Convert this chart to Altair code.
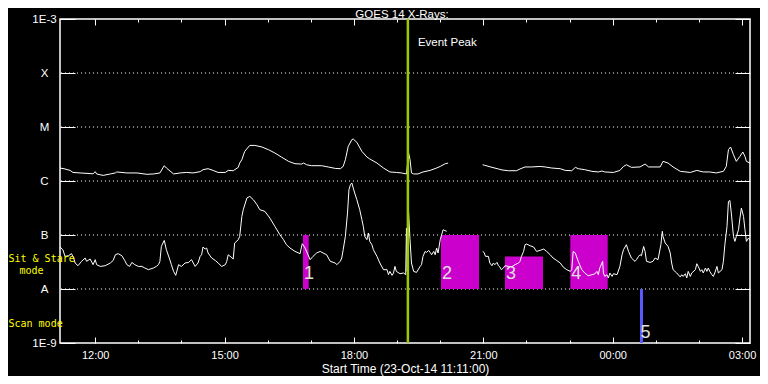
import altair as alt
import pandas as pd

# ---------------- data ----------------
START = "2014-10-23 11:11:00"
TITLE = "GOES 14 X-Rays:"

# long channel (1-8 A), minutes after start; None marks a data gap
LONG_T = [0, 7, 14, 18, 28, 46, 49, 51, 60, 70, 77, 79, 93, 107, 121, 130, 139, 145, 148, 158,
          167, 176, 185, 195, 199, 206, 213, 220, 230, 234, 241, 248, 250, 253, 257, 264, 271, 281, 290, 299,
          308, 318, 327, 336, 339, 343, 350, 364, 373, 383, 390, 394, 397, 401, 406, 408, 413, 420, 427, 431,
          441, 450, 459, 468, 475, 482, 485, 487, 489, 492, 498, 505, 515, 524, 529, 536, 540, None,
          588, 591, 601, 610, 615, 624, 635, 640, 647, 656, 668, 675, 684, 696, 703, 712, 717, 721, 730, 740,
          749, 754, 758, 770, 779, 784, 788, 795, 807, 814, 819, 835, 839, 846, 853, 863, 877, 886, 895, 904,
          913, 923, 927, 930, 933, 937, 941, 946, 950, 953, 955, 960]
# flux in units of 1e-6 W/m^2
LONG_F = [1.74, 1.67, 1.57, 1.44, 1.41, 1.36, 1.49, 1.35, 1.27, 1.35, 1.41, 1.47, 1.41, 1.41, 1.33, 1.35, 1.41, 1.92, 1.74, 1.35,
          1.41, 1.44, 1.41, 1.49, 1.62, 1.69, 1.57, 1.44, 1.44, 1.57, 1.55, 1.79, 2.15, 2.48, 3.54, 4.56, 4.56, 4.26, 3.80, 3.30,
          2.78, 2.31, 2.09, 2.06, 2.15, 2.00, 1.92, 1.92, 1.82, 1.71, 1.69, 1.86, 2.48, 4.37, 5.82, 5.99, 5.19, 3.54, 2.78, 2.56,
          2.15, 1.74, 1.47, 1.44, 1.41, 1.35, 3.30, 2.48, 1.41, 1.35, 1.35, 1.47, 1.57, 1.74, 1.86, 2.09, 2.15, None,
          2.00, 1.95, 1.79, 1.67, 1.60, 1.55, 1.55, 1.67, 1.82, 1.82, 1.86, 1.82, 1.74, 1.69, 1.57, 1.55, 1.79, 1.69, 1.62, 1.51,
          1.47, 1.53, 1.47, 1.44, 1.57, 1.86, 2.00, 1.79, 1.82, 2.06, 1.82, 1.82, 2.31, 2.15, 1.82, 1.51, 1.44, 1.57, 1.47, 1.47,
          1.41, 1.51, 1.86, 3.80, 4.26, 3.07, 2.31, 2.86, 3.44, 2.86, 2.31, 2.15]

# short channel (0.5-4 A), minutes after start; None marks a data gap
SHORT_T = [0, 4, 7, 12, 16, 19, 21, 25, 30, 35, 37, 42, 46, 49, 51, 56, 63, 70, 74, 77,
           81, 86, 90, 93, 97, 100, 104, 109, 114, 118, 123, 130, 134, 137, 139, 141, 145, 148, 152, 155,
           158, 161, 165, 169, 174, 179, 183, 188, 192, 195, 197, 199, 202, 204, 206, 211, 216, 220, 225, 230,
           232, 234, 238, 241, 243, 248, 250, 253, 255, 260, 264, 269, 274, 278, 285, 292, 299, 306, 311, 315,
           320, 327, 334, 337, 341, 345, 348, 352, 357, 362, 366, 371, 376, 383, 385, 390, 392, 394, 397, 400,
           402, 404, 406, 408, 410, 413, 417, 420, 422, 424, 427, 429, 431, 434, 436, 441, 445, 450, 455, 457,
           459, 462, 464, 466, 468, 473, 478, 481, 482, 483, 485, 487, 489, 492, 496, 501, 503, 505, 508, 510,
           513, 515, 517, 520, 522, 524, 526, 529, 533, 538, None,
           588, 590, 592, 596, 598, 601, 603, 605, 608, 610, 612, 614, 617, 619, 624, 628, 633, 638, 640, 642,
           645, 647, 649, 654, 659, 663, 668, 673, 677, 682, 686, 691, 696, 700, 705, 710, 712, 714, 717, 721,
           726, 730, 735, 740, 744, 747, 749, 751, 755, 756, 758, 761, 763, 765, 768, 770, 775, 779, 782, 784,
           788, 791, 795, 800, 802, 805, 807, 809, 812, 814, 816, 821, 825, 828, 832, 836, 838, 839, 842, 846,
           849, 851, 853, 858, 863, 865, 867, 870, 872, 874, 877, 879, 884, 886, 888, 891, 893, 895, 898, 900,
           902, 904, 907, 909, 911, 914, 916, 921, 923, 925, 928, 930, 932, 934, 937, 939, 941, 944, 946, 948,
           951, 953, 955, 958, 960]
# flux in units of 1e-8 W/m^2
SHORT_F = [5.99, 5.34, 4.02, 4.14, 4.51, 3.75, 3.03, 2.70, 3.25, 3.75, 3.25, 3.59, 2.82, 3.49, 2.82, 2.62, 2.70, 3.03, 3.38, 4.31,
           4.51, 4.14, 3.38, 2.82, 2.62, 3.11, 2.82, 2.62, 2.62, 2.45, 2.28, 2.45, 2.62, 2.82, 3.25, 6.14, 7.94, 5.34, 3.75, 2.82,
           2.12, 1.79, 2.82, 2.62, 3.03, 3.11, 3.49, 2.62, 3.03, 4.02, 4.31, 5.99, 5.50, 5.74, 4.64, 3.75, 3.38, 3.03, 2.62, 2.82,
           3.25, 4.31, 3.91, 3.59, 7.10, 8.18, 9.4, 22.1, 29.4, 48.4, 51.9, 45.0, 36.4, 29.4, 27.4, 20.6, 14.4, 10.1, 8.18, 6.61,
           5.74, 4.97, 4.51, 6.9, 5.74, 4.31, 3.49, 4.02, 4.64, 4.97, 4.64, 4.31, 3.25, 3.03, 2.82, 3.25, 3.75, 5.34, 9.4, 25.5,
           69.0, 85.0, 92.0, 74.0, 60.0, 45.0, 29.4, 19.2, 14.4, 9.4, 8.18, 10.9, 7.6, 6.6, 5.34, 4.02, 3.03, 2.28, 2.28, 1.84,
           2.12, 1.79, 1.98, 2.62, 2.12, 1.92, 1.98, 1.84, 13.5, 2.12, 26.0, 8.18, 3.03, 2.12, 2.03, 2.62, 2.82, 4.02, 4.97, 4.76,
           5.19, 4.76, 4.31, 4.97, 4.31, 5.74, 4.64, 8.18, 12.5, 11.7, None,
           4.97, 4.76, 4.02, 4.02, 3.03, 2.70, 3.03, 2.82, 3.11, 2.70, 2.56, 2.28, 2.45, 2.70, 2.62, 2.56, 2.82, 3.03, 3.25, 4.02,
           4.97, 6.61, 6.81, 6.33, 5.99, 4.97, 5.19, 5.50, 4.97, 4.31, 3.75, 3.38, 3.03, 2.56, 2.28, 2.12, 2.28, 4.97, 4.64, 3.25,
           2.28, 1.98, 1.76, 1.84, 1.90, 2.12, 1.84, 2.45, 3.25, 1.98, 1.71, 1.84, 1.60, 1.98, 1.71, 1.92, 1.84, 2.62, 4.31, 5.34,
           6.61, 4.97, 3.75, 3.25, 3.49, 4.02, 4.31, 4.14, 6.14, 4.97, 3.25, 3.11, 3.25, 3.75, 3.49, 6.61, 11.7, 9.4, 7.10, 6.14,
           4.64, 3.03, 2.28, 1.98, 1.67, 1.84, 1.71, 1.92, 1.60, 2.12, 1.71, 1.98, 2.28, 2.94, 2.62, 2.12, 2.28, 1.98, 2.45, 2.12,
           2.45, 2.12, 1.84, 1.71, 1.98, 2.62, 1.98, 2.28, 3.25, 6.61, 14.4, 41.9, 43.6, 25.5, 9.4, 7.6, 9.4, 12.5, 20.6, 31.6,
           22.1, 12.5, 7.6, 8.8, 8.18]

LEVEL_VALUES = [1e-3, 1e-4, 1e-5, 1e-6, 1e-7, 1e-8, 1e-9]
LEVEL_LABELS = ["1E-3", "X", "M", "C", "B", "A", "1E-9"]
GRID_LEVELS = [1e-4, 1e-5, 1e-6, 1e-7, 1e-8]

BOX_LABELS = ["1", "2", "3", "4"]
BOX_START = ["2014-10-23 16:49", "2014-10-23 20:01", "2014-10-23 21:30", "2014-10-23 23:01"]
BOX_END = ["2014-10-23 16:57", "2014-10-23 20:54", "2014-10-23 22:23", "2014-10-23 23:53"]
BOX_LO = [1e-8, 1e-8, 1e-8, 1e-8]
BOX_HI = [1e-7, 1e-7, 4e-8, 1e-7]

SCAN_LABELS = ["5"]
SCAN_TIME = ["2014-10-24 00:40"]
SCAN_LO = [1e-9]
SCAN_HI = [1e-8]

EVENT_TIME = ["2014-10-23 19:15"]

DOMAIN_START = (2014, 10, 23, 11, 11)
DOMAIN_END = (2014, 10, 24, 3, 11)
MAJOR_HOURS = [(23, 12), (23, 15), (23, 18), (23, 21), (24, 0), (24, 3)]
MINOR_HOURS = [(23, h) for h in range(12, 24)] + [(24, h) for h in range(0, 4)]

# ---------------- build tables ----------------
start = pd.Timestamp(START)


def curve(ts, fs, unit, name):
    rows, seg = [], 0
    for t, f in zip(ts, fs):
        if t is None:
            seg += 1
            continue
        rows.append({"time": start + pd.Timedelta(minutes=t), "flux": f * unit, "key": f"{name}{seg}"})
    return rows


curves = pd.DataFrame(curve(LONG_T, LONG_F, 1e-6, "long") + curve(SHORT_T, SHORT_F, 1e-8, "short"))
grid = pd.DataFrame({"level": GRID_LEVELS})
boxes = pd.DataFrame({"label": BOX_LABELS, "start": pd.to_datetime(BOX_START), "end": pd.to_datetime(BOX_END),
                      "lo": BOX_LO, "hi": BOX_HI})
scan = pd.DataFrame({"label": SCAN_LABELS, "time": pd.to_datetime(SCAN_TIME), "lo": SCAN_LO, "hi": SCAN_HI})
event = pd.DataFrame({"time": pd.to_datetime(EVENT_TIME)})
one = pd.DataFrame({"k": [0]})

FONT = "Liberation Sans"
MONO = "DejaVu Sans Mono"
WHITE = "#ffffff"
MAGENTA = "#cc00cc"
BLUE = "#5a5aff"
GREEN = "#a0c800"
YELLOW = "#ffff00"


def dt(y, mo, d, h, mi=0):
    return alt.DateTime(year=y, month=mo, date=d, hours=h, minutes=mi)


xscale = alt.Scale(domain=[dt(*DOMAIN_START), dt(*DOMAIN_END)], nice=False)
yscale = alt.Scale(type="log", domain=[LEVEL_VALUES[-1], LEVEL_VALUES[0]], nice=False)

major_vals = [dt(2014, 10, d, h) for d, h in MAJOR_HOURS]
minor_vals = [dt(2014, 10, d, h) for d, h in MINOR_HOURS]

# label expression built from the level lists
expr = "''"
for v, lab in zip(reversed(LEVEL_VALUES), reversed(LEVEL_LABELS)):
    expr = f"datum.value > {v * 0.5} ? '{lab}' : ({expr})"

bottom_major = alt.Axis(orient="bottom", values=major_vals, format="%H:%M", offset=-6, tickSize=6,
                        domain=False, grid=False, tickColor=WHITE, tickWidth=1, labelColor=WHITE,
                        labelFont=FONT, labelFontSize=11, labelPadding=6, labelFlush=False,
                        labelOverlap=False, title="Start Time (23-Oct-14 11:11:00)", titleColor=WHITE,
                        titleFont=FONT, titleFontSize=12, titleFontWeight="normal", titlePadding=3)
bottom_minor = alt.Axis(orient="bottom", values=minor_vals, offset=-3, tickSize=3, domain=False,
                        grid=False, labels=False, title=None, tickColor=WHITE, tickWidth=1)
top_major = alt.Axis(orient="top", values=major_vals, offset=-6, tickSize=6, domain=False,
                     grid=False, labels=False, title=None, tickColor=WHITE, tickWidth=1)
top_minor = alt.Axis(orient="top", values=minor_vals, offset=-3, tickSize=3, domain=False,
                     grid=False, labels=False, title=None, tickColor=WHITE, tickWidth=1)
left_y = alt.Axis(orient="left", values=LEVEL_VALUES, labelExpr=expr, offset=-15, tickSize=15,
                  domain=False, grid=False, tickColor=WHITE, tickWidth=1, labelColor=WHITE,
                  labelFont=FONT, labelFontSize=11.5, labelAlign="center", labelBaseline="middle",
                  labelPadding=16, labelFlush=False, labelOverlap=False, title=None)
right_y = alt.Axis(orient="right", values=LEVEL_VALUES, offset=-15, tickSize=15, domain=False,
                   grid=False, labels=False, tickColor=WHITE, tickWidth=1, title=None)

grid_layer = alt.Chart(grid).mark_rule(color=WHITE, strokeDash=[1, 3], strokeWidth=1).encode(
    y=alt.Y("level:Q", scale=yscale, axis=left_y))

box_layer = alt.Chart(boxes).mark_rect(color=MAGENTA).encode(
    x=alt.X("start:T", scale=xscale, axis=bottom_major), x2="end:T",
    y=alt.Y("lo:Q", scale=yscale, axis=right_y), y2="hi:Q")

scan_layer = alt.Chart(scan).mark_rule(color=BLUE, strokeWidth=3).encode(
    x=alt.X("time:T", scale=xscale, axis=bottom_minor),
    y=alt.Y("lo:Q", scale=yscale, axis=None), y2="hi:Q")

curve_layer = alt.Chart(curves).mark_line(color=WHITE, strokeWidth=1).encode(
    x=alt.X("time:T", scale=xscale, axis=top_major),
    y=alt.Y("flux:Q", scale=yscale, axis=None),
    detail="key:N")

event_layer = alt.Chart(event).mark_rule(color=GREEN, strokeWidth=2.5).encode(
    x=alt.X("time:T", scale=xscale, axis=top_minor))

event_text = alt.Chart(event).mark_text(text="Event Peak", align="left", baseline="middle", dx=10,
                                        color=WHITE, font=FONT, fontSize=11.5).encode(
    x=alt.X("time:T", scale=xscale, axis=None), y=alt.value(23.5))

box_text = alt.Chart(boxes).mark_text(align="left", baseline="alphabetic", dx=1, dy=-10.5,
                                      color="#e0e0e0", font=FONT, fontSize=18).encode(
    x=alt.X("start:T", scale=xscale, axis=None), y=alt.Y("lo:Q", scale=yscale, axis=None),
    text="label:N")

scan_text = alt.Chart(scan).mark_text(align="left", baseline="alphabetic", dx=-1, dy=-4.7,
                                      color="#e0e0e0", font=FONT, fontSize=18).encode(
    x=alt.X("time:T", scale=xscale, axis=None), y=alt.Y("lo:Q", scale=yscale, axis=None),
    text="label:N")

title_text = alt.Chart(one).mark_text(text=TITLE, align="center", baseline="alphabetic", color=WHITE,
                                      font=FONT, fontSize=11.5).encode(x=alt.value(342), y=alt.value(-1.5))

mode1 = alt.Chart(one).mark_text(text="Sit & Stare", align="left", baseline="middle", color=YELLOW,
                                 font=MONO, fontSize=10).encode(x=alt.value(-51.5), y=alt.value(239.5))
mode2 = alt.Chart(one).mark_text(text="mode", align="left", baseline="middle", color=YELLOW,
                                 font=MONO, fontSize=10).encode(x=alt.value(-40.5), y=alt.value(252))
mode3 = alt.Chart(one).mark_text(text="Scan mode", align="left", baseline="middle", color=YELLOW,
                                 font=MONO, fontSize=10).encode(x=alt.value(-51.5), y=alt.value(304.5))

chart = alt.layer(
    grid_layer, box_layer, scan_layer, curve_layer, event_layer,
    event_text, box_text, scan_text, title_text, mode1, mode2, mode3,
).resolve_axis(x="independent", y="independent").properties(
    width=690, height=324,
    autosize=alt.AutoSizeParams(type="none"),
    padding={"left": 52, "top": 11, "right": 10, "bottom": 33},
).configure(background="black").configure_view(stroke=WHITE, strokeWidth=1.5)

chart.save("out.html", embed_options={"renderer": "svg", "actions": False})
